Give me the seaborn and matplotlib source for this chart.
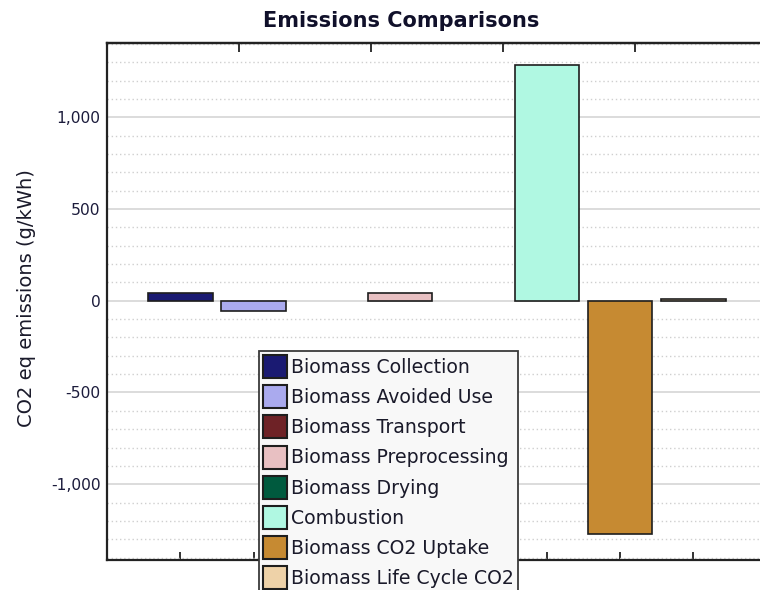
import numpy as np
import pandas as pd
import matplotlib
matplotlib.use('Agg')
import matplotlib.pyplot as plt
import seaborn as sns
from matplotlib.ticker import MultipleLocator, FuncFormatter

# data
categories = ['Biomass Collection', 'Biomass Avoided Use', 'Biomass Transport',
              'Biomass Preprocessing', 'Biomass Drying', 'Combustion',
              'Biomass CO2 Uptake', 'Biomass Life Cycle CO2']
emissions = [45, -56, 0, 40, 0, 1283, -1274, 12]
colors = ['#1a1a72', '#aaaaee', '#6e2226', '#e8c0c2',
          '#005a3e', '#b0f8e2', '#c68a32', '#eed2a8']

df = pd.DataFrame({'source': categories, 'co2': emissions})

sns.set_style('white')
plt.rcParams['font.family'] = ['DejaVu Sans']

W, H = 760, 590
fig = plt.figure(figsize=(W / 100, H / 100), dpi=100)

# axes run past the right border like in the cropped screenshot
left, right, top, bottom = 107, 766.7, 43, 560
ax = fig.add_axes([left / W, 1 - bottom / H, (right - left) / W, (bottom - top) / H])

sns.barplot(data=df, x='source', y='co2', hue='source', order=categories,
            hue_order=categories, palette=colors, width=0.88, dodge=False,
            edgecolor='#1e1e1e', linewidth=1.2, saturation=1, ax=ax, zorder=3,
            legend=True)

# take seaborn's legend entries, then redraw the legend in the reference style
old = ax.get_legend()
handles = list(old.legend_handles)
labels = [t.get_text() for t in old.get_texts()]
old.remove()
for h, c in zip(handles, colors):
    h.set_facecolor(c)
    h.set_edgecolor('#1e1e1e')
    h.set_linewidth(1.5)

ax.set_xlim(-1, 8)
ax.set_ylim(-1413, 1405)
ax.set_xlabel('')
ax.set_ylabel('')
ax.set_xticks(range(len(categories)))
ax.set_xticklabels([])

ax.yaxis.set_major_locator(MultipleLocator(500))
ax.yaxis.set_minor_locator(MultipleLocator(100))
ax.yaxis.set_major_formatter(FuncFormatter(lambda v, p: f'{v:,.0f}'))
ax.grid(which='major', axis='y', color='#dcdcdc', lw=1.4, zorder=0)
ax.grid(which='minor', axis='y', color='#cfcfcf', lw=1.0, linestyle=(0, (1, 2)), zorder=0)
ax.set_axisbelow(True)

ax.tick_params(axis='y', which='major', direction='in', length=7, width=1.3,
               pad=4.5, labelsize=11.2, labelcolor='#1c1c3c', color='#222222')
ax.tick_params(axis='y', which='minor', direction='in', length=2.2, width=1.0, color='#444444')
ax.tick_params(axis='x', which='major', direction='in', length=5.8, width=1.3,
               bottom=True, top=False, color='#222222')
for side in ['left', 'bottom', 'top']:
    ax.spines[side].set_linewidth(1.6)
    ax.spines[side].set_color('#222222')
ax.spines['right'].set_visible(False)

# second x scale on top with its own ticks
ax2 = ax.twiny()
ax2.set_xlim(0, 5)
ax2.set_xticks([1, 2, 3, 4])
ax2.set_xticklabels([])
ax2.tick_params(axis='x', direction='in', length=6.5, width=1.3, color='#222222')
for side in ['left', 'bottom', 'right']:
    ax2.spines[side].set_visible(False)
ax2.spines['top'].set_linewidth(1.6)
ax2.spines['top'].set_color('#222222')

leg = ax2.legend(handles, labels, loc='upper left',
                 bbox_to_anchor=(258.7 / W, 1 - 350.7 / H), bbox_transform=fig.transFigure,
                 fontsize=13.6, handlelength=1.27, handleheight=1.5, handletextpad=0.2,
                 labelspacing=0.38, borderpad=0.22, borderaxespad=0, frameon=True,
                 fancybox=False, framealpha=1, facecolor='#f8f8f8', edgecolor='#3a3a3a')
leg.get_frame().set_linewidth(1.3)
leg.set_zorder(10)
for t in leg.get_texts():
    t.set_color('#1a1a2a')

# zero-height bars show no outline in the reference
for p in ax.patches:
    if p.get_height() == 0:
        p.set_linewidth(0)

fig.text(401 / W, 1 - 21 / H, 'Emissions Comparisons', ha='center', va='center',
         fontsize=15, fontweight='bold', color='#10102a')
fig.text(27 / W, 1 - 298.5 / H, 'CO2 eq emissions (g/kWh)', rotation=90,
         ha='center', va='center', fontsize=14, color='#1a1a2a')

fig.savefig('out.png', dpi=100)
